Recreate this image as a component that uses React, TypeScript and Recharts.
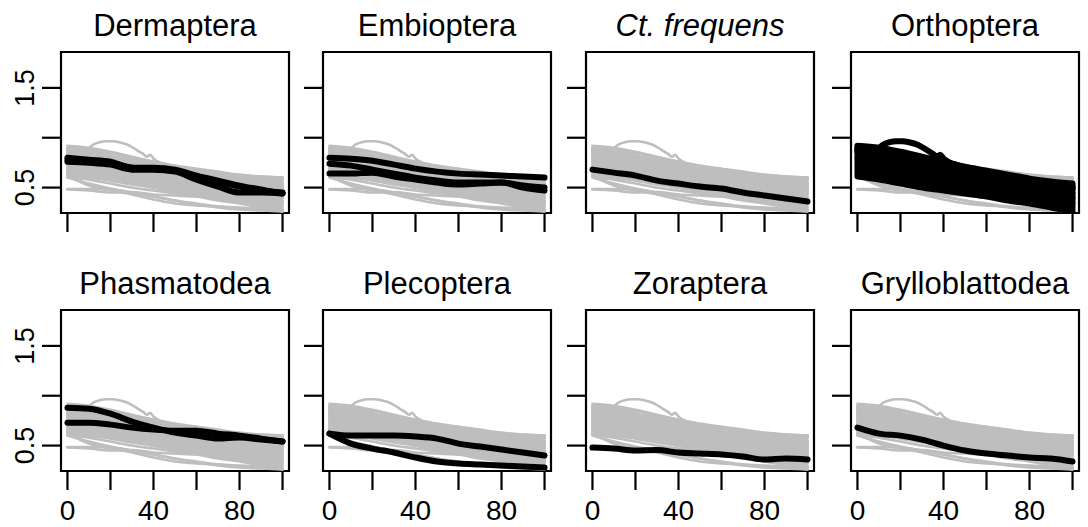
import { LineChart, Line, XAxis, YAxis, ReferenceArea } from "recharts";

// sampling grid shared by most curves (percent of the gradient)
const xs = [0, 10, 20, 30, 40, 50, 60, 70, 80, 90, 100];
const xTicks = [0, 20, 40, 60, 80, 100];
const xLabels = [0, 40, 80];
const yTicks = [0.5, 1.0, 1.5];
const yLabels = [0.5, 1.5];

const dermaptera = [
  [0.8, 0.78, 0.76, 0.7, 0.7, 0.68, 0.62, 0.57, 0.52, 0.48, 0.44],
  [0.76, 0.75, 0.73, 0.68, 0.68, 0.66, 0.58, 0.51, 0.45, 0.45, 0.44],
  [0.78, 0.77, 0.75, 0.7, 0.69, 0.67, 0.61, 0.56, 0.51, 0.47, 0.45],
];
const embioptera = [
  [0.8, 0.79, 0.77, 0.73, 0.69, 0.66, 0.64, 0.63, 0.62, 0.61, 0.6],
  [0.74, 0.72, 0.68, 0.64, 0.6, 0.57, 0.55, 0.55, 0.55, 0.52, 0.5],
  [0.64, 0.64, 0.65, 0.61, 0.58, 0.55, 0.53, 0.54, 0.55, 0.5, 0.47],
];
const ctFrequens = [[0.68, 0.65, 0.62, 0.57, 0.54, 0.51, 0.49, 0.45, 0.42, 0.39, 0.36]];
const orthoptera = [
  [0.92, 0.9, 0.86, 0.81, 0.76, 0.71, 0.67, 0.63, 0.59, 0.56, 0.54],
  [0.9, 0.88, 0.85, 0.8, 0.75, 0.7, 0.66, 0.62, 0.58, 0.55, 0.52],
  [0.89, 0.86, 0.82, 0.78, 0.73, 0.69, 0.64, 0.61, 0.57, 0.53, 0.5],
  [0.87, 0.85, 0.81, 0.76, 0.72, 0.67, 0.63, 0.59, 0.55, 0.52, 0.49],
  [0.85, 0.82, 0.79, 0.75, 0.7, 0.66, 0.61, 0.57, 0.54, 0.5, 0.47],
  [0.83, 0.81, 0.77, 0.73, 0.68, 0.64, 0.6, 0.56, 0.52, 0.49, 0.45],
  [0.81, 0.78, 0.75, 0.71, 0.67, 0.62, 0.58, 0.54, 0.51, 0.47, 0.44],
  [0.79, 0.77, 0.73, 0.69, 0.65, 0.61, 0.57, 0.53, 0.49, 0.45, 0.42],
  [0.77, 0.75, 0.71, 0.67, 0.63, 0.59, 0.55, 0.51, 0.47, 0.44, 0.4],
  [0.75, 0.72, 0.69, 0.65, 0.61, 0.57, 0.53, 0.49, 0.46, 0.42, 0.39],
  [0.73, 0.7, 0.67, 0.63, 0.59, 0.55, 0.51, 0.48, 0.44, 0.4, 0.37],
  [0.71, 0.68, 0.65, 0.61, 0.57, 0.53, 0.5, 0.46, 0.42, 0.39, 0.35],
  [0.69, 0.66, 0.63, 0.59, 0.56, 0.52, 0.48, 0.44, 0.41, 0.37, 0.34],
  [0.67, 0.64, 0.61, 0.57, 0.54, 0.5, 0.46, 0.43, 0.39, 0.36, 0.32],
  [0.65, 0.62, 0.59, 0.55, 0.52, 0.48, 0.44, 0.41, 0.37, 0.34, 0.3],
  [0.63, 0.6, 0.57, 0.53, 0.5, 0.46, 0.43, 0.39, 0.36, 0.32, 0.28],
  [0.61, 0.58, 0.54, 0.5, 0.47, 0.44, 0.41, 0.37, 0.34, 0.3, 0.26],
];
// the two Orthoptera curves with the early hump
const humpX = [0, 5, 9, 12, 15, 18, 21, 24, 28, 32, 35, 37, 38.5, 40, 43, 47, 52, 60, 70, 80, 90, 100];
const humpY = [0.88, 0.87, 0.88, 0.93, 0.955, 0.965, 0.965, 0.955, 0.93, 0.88, 0.84, 0.81, 0.83, 0.79, 0.75, 0.72, 0.69, 0.65, 0.61, 0.57, 0.54, 0.51];
const innerX = [0, 5, 10, 13, 16, 20, 24, 28, 32, 40, 50, 60, 70, 80, 90, 100];
const innerY = [0.86, 0.86, 0.87, 0.875, 0.86, 0.82, 0.78, 0.76, 0.74, 0.71, 0.67, 0.63, 0.59, 0.56, 0.52, 0.49];
const phasmatodea = [
  [0.88, 0.87, 0.82, 0.74, 0.68, 0.63, 0.6, 0.57, 0.58, 0.56, 0.54],
  [0.73, 0.73, 0.71, 0.68, 0.66, 0.65, 0.65, 0.62, 0.6, 0.57, 0.54],
];
const plecoptera = [
  [0.62, 0.6, 0.6, 0.6, 0.59, 0.57, 0.52, 0.49, 0.46, 0.43, 0.4],
  [0.62, 0.52, 0.47, 0.43, 0.38, 0.34, 0.32, 0.31, 0.3, 0.29, 0.28],
];
const zoraptera = [[0.48, 0.47, 0.45, 0.455, 0.43, 0.42, 0.41, 0.39, 0.36, 0.37, 0.36]];
const grylloblattodea = [[0.68, 0.62, 0.6, 0.56, 0.5, 0.45, 0.42, 0.4, 0.38, 0.37, 0.34]];
// remaining background curves
const otherGray = [
  [0.9, 0.88, 0.85, 0.8, 0.76, 0.72, 0.69, 0.66, 0.63, 0.61, 0.6],
  [0.86, 0.84, 0.81, 0.78, 0.74, 0.71, 0.68, 0.65, 0.62, 0.6, 0.59],
  [0.82, 0.8, 0.77, 0.74, 0.71, 0.68, 0.65, 0.63, 0.61, 0.58, 0.57],
  [0.84, 0.82, 0.78, 0.75, 0.72, 0.69, 0.66, 0.62, 0.6, 0.59, 0.58],
  [0.7, 0.68, 0.64, 0.6, 0.55, 0.51, 0.47, 0.43, 0.4, 0.38, 0.36],
  [0.66, 0.62, 0.58, 0.54, 0.5, 0.47, 0.44, 0.41, 0.38, 0.35, 0.33],
  [0.485, 0.485, 0.48, 0.45, 0.41, 0.37, 0.33, 0.3, 0.28, 0.27, 0.26],
  [0.6, 0.54, 0.49, 0.45, 0.41, 0.37, 0.34, 0.31, 0.29, 0.28, 0.27],
];

type Pt = { x: number; y: number };
const toPoints = (xv: number[], yv: number[]): Pt[] => yv.map((y, i) => ({ x: xv[i], y }));
const grid = (rows: number[][]) => rows.map((r) => toPoints(xs, r));

const orders = [
  { name: "Dermaptera", italic: false, curves: grid(dermaptera) },
  { name: "Embioptera", italic: false, curves: grid(embioptera) },
  { name: "Ct. frequens", italic: true, curves: grid(ctFrequens) },
  {
    name: "Orthoptera",
    italic: false,
    curves: [...grid(orthoptera), toPoints(humpX, humpY), toPoints(innerX, innerY)],
  },
  { name: "Phasmatodea", italic: false, curves: grid(phasmatodea) },
  { name: "Plecoptera", italic: false, curves: grid(plecoptera) },
  { name: "Zoraptera", italic: false, curves: grid(zoraptera) },
  { name: "Grylloblattodea", italic: false, curves: grid(grylloblattodea) },
];
const allCurves = [...orders.flatMap((o) => o.curves), ...grid(otherGray)];

const FONT = '"Liberation Sans", Arial, sans-serif';
const X_DOMAIN: [number, number] = [-3, 103];
const Y_DOMAIN: [number, number] = [0.245, 1.86];
const boxLefts = [61, 323, 586, 851];

function Panel({ idx }: { idx: number }) {
  const order = orders[idx];
  const col = idx % 4;
  const row = Math.floor(idx / 4);
  const showX = row === 1;
  const showY = col === 0;

  const xTick = (p: any) => {
    if (!showX || !xLabels.includes(p.payload.value)) return <g />;
    return (
      <text x={p.x} y={p.y + 30} textAnchor="middle" fontSize={28} fontFamily={FONT} fill="#000">
        {p.payload.value}
      </text>
    );
  };
  const yTick = (p: any) => {
    if (!showY || !yLabels.includes(p.payload.value)) return <g />;
    const tx = 34;
    return (
      <text x={tx} y={p.y} transform={`rotate(-90, ${tx}, ${p.y})`} textAnchor="middle" fontSize={27} fontFamily={FONT} fill="#000">
        {p.payload.value.toFixed(1)}
      </text>
    );
  };

  return (
    <div style={{ position: "absolute", left: boxLefts[col] - 61, top: row * 258, width: 299, height: 269 }}>
      <div
        style={{
          position: "absolute",
          left: 41,
          width: 268,
          top: 11,
          lineHeight: "30px",
          fontSize: 31,
          fontFamily: FONT,
          fontStyle: order.italic ? "italic" : "normal",
          textAlign: "center",
          whiteSpace: "nowrap",
        }}
      >
        {order.name}
      </div>
      <LineChart width={299} height={269} margin={{ top: 52, right: 10, left: 0, bottom: 0 }}>
        <XAxis
          type="number"
          dataKey="x"
          domain={X_DOMAIN}
          ticks={xTicks}
          allowDataOverflow
          height={56}
          tickSize={19}
          tickMargin={0}
          axisLine={false}
          tickLine={{ stroke: "#000", strokeWidth: 2.2 }}
          tick={xTick}
        />
        <YAxis
          type="number"
          dataKey="y"
          domain={Y_DOMAIN}
          ticks={yTicks}
          allowDataOverflow
          width={61}
          tickSize={19}
          tickMargin={0}
          axisLine={false}
          tickLine={{ stroke: "#000", strokeWidth: 2.2 }}
          tick={yTick}
        />
        {allCurves.map((pts, i) => (
          <Line
            key={"g" + i}
            data={pts}
            dataKey="y"
            type="monotone"
            stroke="#bebebe"
            strokeWidth={2.6}
            strokeLinecap="round"
            dot={false}
            activeDot={false}
            isAnimationActive={false}
          />
        ))}
        {order.curves.map((pts, i) => (
          <Line
            key={"b" + i}
            data={pts}
            dataKey="y"
            type="monotone"
            stroke="#000"
            strokeWidth={6}
            strokeLinecap="round"
            strokeLinejoin="round"
            dot={false}
            activeDot={false}
            isAnimationActive={false}
          />
        ))}
        <ReferenceArea
          x1={X_DOMAIN[0]}
          x2={X_DOMAIN[1]}
          y1={Y_DOMAIN[0]}
          y2={Y_DOMAIN[1]}
          fill="none"
          stroke="#000"
          strokeWidth={2.2}
          ifOverflow="visible"
        />
      </LineChart>
    </div>
  );
}

export default function App() {
  return (
    <div style={{ position: "absolute", left: 0, top: 0, width: 1088, height: 527, overflow: "hidden", background: "#fff" }}>
      {orders.map((_, i) => (
        <Panel key={i} idx={i} />
      ))}
    </div>
  );
}
